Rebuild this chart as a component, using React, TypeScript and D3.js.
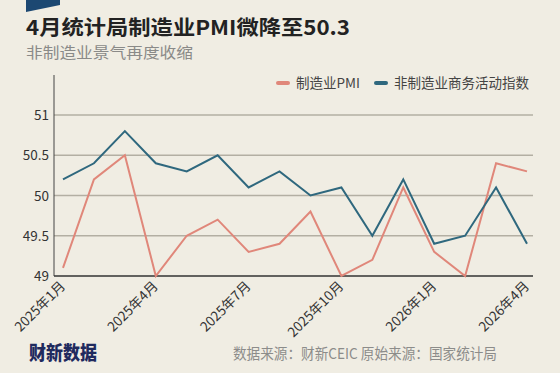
import { useEffect, useRef } from 'react';
import * as d3 from 'd3';

const months = [
  '2025年1月', '2025年2月', '2025年3月', '2025年4月', '2025年5月', '2025年6月',
  '2025年7月', '2025年8月', '2025年9月', '2025年10月', '2025年11月', '2025年12月',
  '2026年1月', '2026年2月', '2026年3月', '2026年4月'
];
const manufacturingPMI = [49.1, 50.2, 50.5, 49.0, 49.5, 49.7, 49.3, 49.4, 49.8, 49.0, 49.2, 50.1, 49.3, 49.0, 50.4, 50.3];
const nonManufacturing = [50.2, 50.4, 50.8, 50.4, 50.3, 50.5, 50.1, 50.3, 50.0, 50.1, 49.5, 50.2, 49.4, 49.5, 50.1, 49.4];
const yTicks = [49, 49.5, 50, 50.5, 51];
const xTickLabels = ['2025年1月', '2025年4月', '2025年7月', '2025年10月', '2026年1月', '2026年4月'];
const seriesNames = ['制造业PMI', '非制造业商务活动指数'];

const W = 560, H = 373;
const font = '"Noto Sans CJK SC", "Noto Sans", sans-serif';
const bg = '#f0ede3';
const red = '#e0877a';
const blue = '#2f687e';

export default function App() {
  const ref = useRef<SVGSVGElement>(null);

  useEffect(() => {
    const svg = d3.select(ref.current);
    svg.selectAll('*').remove();

    svg.append('rect').attr('width', W).attr('height', H).attr('fill', bg);

    // corner tab
    svg.append('path')
      .attr('d', 'M26,0 L60,0 L60,5 L26,12 Z')
      .attr('fill', '#1c4872');

    svg.append('text')
      .attr('x', 26).attr('y', 34.5)
      .attr('font-family', font).attr('font-weight', 700)
      .attr('font-size', 20.5).attr('fill', '#222')
      .attr('textLength', 324).attr('lengthAdjust', 'spacingAndGlyphs')
      .text('4月统计局制造业PMI微降至50.3');

    svg.append('text')
      .attr('x', 26).attr('y', 57.5)
      .attr('font-family', font)
      .attr('font-size', 15).attr('fill', '#8a8a88')
      .attr('textLength', 167).attr('lengthAdjust', 'spacingAndGlyphs')
      .text('非制造业景气再度收缩');

    const left = 54, right = 533, top = 75, bottom = 276;

    const x = d3.scalePoint<string>()
      .domain(months)
      .range([63, 527]);

    const y = d3.scaleLinear()
      .domain([49, 51])
      .range([bottom, 115]);

    // grid
    svg.append('g').selectAll('line')
      .data(yTicks.filter(d => d !== 49))
      .enter()
      .append('line')
      .attr('x1', left).attr('x2', right)
      .attr('y1', d => y(d)).attr('y2', d => y(d))
      .attr('stroke', '#b3afa3').attr('stroke-width', 1.5);

    // y labels
    svg.append('g').selectAll('text')
      .data(yTicks)
      .enter()
      .append('text')
      .attr('x', 49).attr('y', d => y(d) + 5)
      .attr('text-anchor', 'end')
      .attr('font-family', font).attr('font-size', 13.5).attr('fill', '#333')
      .text(d => String(d));

    // axes lines
    svg.append('line')
      .attr('x1', left).attr('x2', left).attr('y1', top).attr('y2', bottom)
      .attr('stroke', '#444').attr('stroke-width', 1);
    svg.append('line')
      .attr('x1', left).attr('x2', right).attr('y1', bottom).attr('y2', bottom)
      .attr('stroke', '#333').attr('stroke-width', 1.5);

    // x labels
    svg.append('g').selectAll('text')
      .data(xTickLabels)
      .enter()
      .append('text')
      .attr('transform', d => 'translate(' + ((x(d) as number) + 3) + ',' + (bottom + 11) + ')rotate(-45)')
      .attr('text-anchor', 'end')
      .attr('font-family', font).attr('font-size', 13.5).attr('fill', '#333')
      .text(d => d);

    const line = d3.line<number>()
      .x((_, i) => x(months[i]) as number)
      .y(d => y(d));

    svg.append('path')
      .datum(manufacturingPMI)
      .attr('d', line)
      .attr('fill', 'none').attr('stroke', red).attr('stroke-width', 2);

    svg.append('path')
      .datum(nonManufacturing)
      .attr('d', line)
      .attr('fill', 'none').attr('stroke', blue).attr('stroke-width', 2);

    // legend
    const legend = svg.append('g');
    const legX = [276, 374];
    [red, blue].forEach((c, i) => {
      legend.append('rect')
        .attr('x', legX[i]).attr('y', 81)
        .attr('width', 14).attr('height', 4).attr('rx', 2)
        .attr('fill', c);
      legend.append('text')
        .attr('x', legX[i] + 20).attr('y', 88)
        .attr('font-family', font).attr('font-size', 13.5).attr('fill', '#444')
        .text(seriesNames[i]);
    });

    // footer
    svg.append('text')
      .attr('x', 29).attr('y', 360)
      .attr('font-family', font).attr('font-weight', 900)
      .attr('font-size', 19).attr('fill', '#1f2a5e')
      .attr('textLength', 68).attr('lengthAdjust', 'spacingAndGlyphs')
      .text('财新数据');

    svg.append('text')
      .attr('x', 497).attr('y', 359)
      .attr('text-anchor', 'end')
      .attr('font-family', font).attr('font-size', 14.5).attr('fill', '#8c8c8a')
      .attr('textLength', 264).attr('lengthAdjust', 'spacingAndGlyphs')
      .text('数据来源：财新CEIC 原始来源：国家统计局');
  }, []);

  return (
    <div style={{ position: 'absolute', left: 0, top: 0 }}>
      <svg ref={ref} width={W} height={H} style={{ display: 'block' }} />
    </div>
  );
}
